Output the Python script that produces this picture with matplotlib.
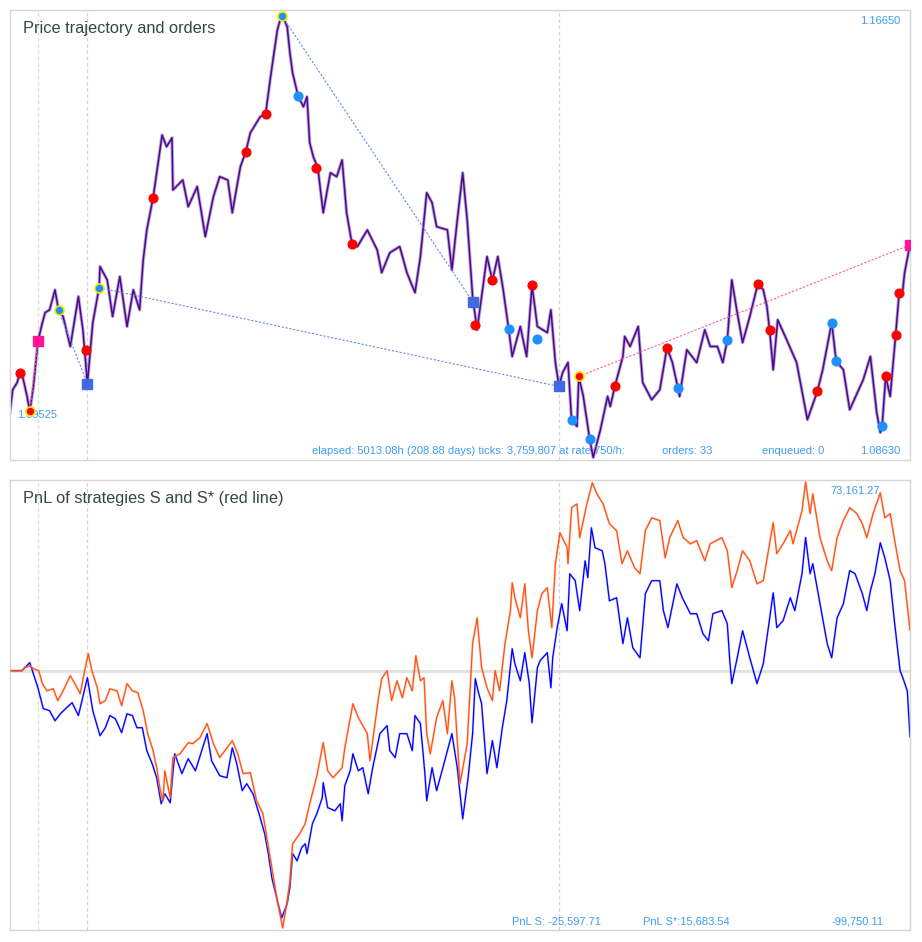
"""Price trajectory with orders, and PnL of strategies S and S*."""

import numpy as np
import matplotlib

matplotlib.use("Agg")
import matplotlib.pyplot as plt

ELAPSED_H = 5013.08

# price trajectory: elapsed time (% of run) and price
price_t = [0, 0.3, 0.8, 1.1, 1.4, 1.9, 2.2, 2.6, 3.1, 3.6, 3.9, 4.4, 5.0, 5.4, 5.9,
           6.7, 7.6, 8.1, 8.6, 9.2, 9.9, 10.0, 10.8, 11.4, 12.2, 13.0, 13.7, 14.4,
           14.8, 15.2, 15.9, 16.3, 16.9, 17.4, 18.0, 18.1, 19.2, 19.8, 20.8, 21.7,
           22.6, 23.3, 24.2, 24.7, 25.6, 26.2, 26.7, 27.8, 28.4, 28.9, 29.7, 30.2,
           30.8, 31.1, 31.4, 32.0, 32.6, 33.0, 33.3, 33.7, 34.2, 34.8, 35.6, 36.3,
           36.9, 37.4, 38.0, 38.6, 39.7, 40.8, 41.3, 42.2, 43.3, 44.1, 45.0, 45.6,
           46.3, 46.9, 47.4, 48.6, 49.1, 49.7, 50.3, 50.8, 51.4, 51.9, 52.4, 53.0,
           53.6, 54.2, 54.8, 55.4, 55.8, 56.7, 57.4, 58.0, 58.6, 59.7, 60.1, 60.6,
           61.0, 61.4, 62.0, 62.4, 63.0, 63.2, 63.7, 64.4, 64.8, 65.6, 66.4, 66.7,
           67.2, 68.1, 68.3, 68.9, 69.8, 70.3, 71.3, 72.2, 73.0, 73.6, 74.2, 74.4,
           75.2, 76.3, 77.2, 77.8, 78.6, 79.2, 79.7, 80.2, 80.8, 81.4, 82.2, 83.1,
           83.7, 84.1, 84.4, 84.8, 85.3, 86.3, 87.4, 88.6, 89.7, 90.3, 91.3, 91.8,
           92.6, 93.3, 94.8, 95.6, 96.3, 96.7, 96.9, 97.3, 97.8, 98.4, 98.8, 99.2,
           99.4, 100.0]
price = [1.0945, 1.0986, 1.0999, 1.1017, 1.1010, 1.0974, 1.0947, 1.0992, 1.1073,
         1.1107, 1.1125, 1.1130, 1.1166, 1.1129, 1.1118, 1.1064, 1.1154, 1.1094,
         1.0997, 1.1107, 1.1170, 1.1208, 1.1184, 1.1118, 1.1190, 1.1100, 1.1166,
         1.1130, 1.1220, 1.1274, 1.1332, 1.1377, 1.1445, 1.1424, 1.1440, 1.1346,
         1.1364, 1.1316, 1.1352, 1.1262, 1.1334, 1.1370, 1.1364, 1.1305, 1.1388,
         1.1415, 1.1449, 1.1478, 1.1483, 1.1544, 1.1634, 1.1663, 1.1640, 1.1593,
         1.1557, 1.1516, 1.1496, 1.1514, 1.1431, 1.1406, 1.1386, 1.1305, 1.1377,
         1.1370, 1.1400, 1.1305, 1.1249, 1.1244, 1.1274, 1.1238, 1.1197, 1.1233,
         1.1244, 1.1197, 1.1161, 1.1226, 1.1341, 1.1323, 1.1280, 1.1274, 1.1202,
         1.1292, 1.1377, 1.1292, 1.1154, 1.1094, 1.1154, 1.1226, 1.1183, 1.1226,
         1.1166, 1.1096, 1.1046, 1.1100, 1.1046, 1.1174, 1.1100, 1.1089, 1.1130,
         1.1035, 1.0992, 1.1017, 1.1035, 1.0931, 1.0920, 1.1010, 1.0974, 1.0898,
         1.0864, 1.0914, 1.0974, 1.0956, 1.0992, 1.1046, 1.1082, 1.1064, 1.1100,
         1.0999, 1.0968, 1.0986, 1.1062, 1.1035, 1.0990, 1.0974, 1.1058, 1.1035,
         1.1094, 1.1064, 1.1064, 1.1035, 1.1075, 1.1184, 1.1125, 1.1071, 1.1118,
         1.1177, 1.1166, 1.1136, 1.1094, 1.1022, 1.1112, 1.1076, 1.1035, 1.0932,
         1.0983, 1.1022, 1.1107, 1.1037, 1.1022, 1.0950, 1.1004, 1.1046, 1.0945,
         1.0909, 1.0920, 1.1010, 1.0974, 1.1084, 1.1161, 1.1166, 1.1197, 1.1247]

# single orders (red = buy, blue = sell)
red_t = [1.1, 8.4, 15.9, 26.2, 28.4, 34.0, 38.0, 51.7, 53.6, 58.0, 67.2, 73.0,
         83.1, 84.4, 89.7, 97.3, 98.4, 98.8]
red_p = [1.1017, 1.1057, 1.1332, 1.1415, 1.1483, 1.1386, 1.1249, 1.1103, 1.1183,
         1.1174, 1.0992, 1.1062, 1.1177, 1.1094, 1.0983, 1.1010, 1.1084, 1.1161]
blue_t = [32.0, 55.4, 58.6, 62.4, 64.4, 74.2, 79.7, 91.3, 91.8, 96.9]
blue_p = [1.1516, 1.1096, 1.1078, 1.0931, 1.0898, 1.0990, 1.1075, 1.1107, 1.1037,
          1.0920]

# trades that were opened and closed: entry, exit, side
trade_side = ["buy", "sell", "sell", "sell", "buy"]
entry_t = [2.2, 5.4, 9.9, 30.2, 63.2]
entry_p = [1.0947, 1.1129, 1.1170, 1.1660, 1.1010]
exit_t = [3.1, 8.6, 61.0, 51.4, 100.0]
exit_p = [1.1073, 1.0997, 1.0992, 1.1145, 1.1247]

# PnL in thousands
pnl_star_t = [0, 1.3, 1.7, 2.2, 2.6, 3.2, 3.6, 4.1, 4.8, 5.3, 5.9, 6.7, 7.2, 7.8, 8.3,
              8.7, 9.1, 9.7, 10.0, 10.6, 11.1, 11.9, 12.4, 13.0, 13.6, 14.2, 14.8,
              15.3, 15.9, 16.3, 16.7, 17.0, 17.2, 17.8, 18.1, 18.9, 19.8, 20.3, 21.1,
              21.9, 22.6, 23.3, 24.7, 25.3, 25.9, 26.7, 27.4, 28.1, 28.6, 29.1, 29.7,
              30.3, 30.8, 31.1, 31.4, 32.2, 32.8, 33.3, 34.1, 34.8, 35.3, 35.9, 36.9,
              37.2, 38.1, 38.7, 39.7, 40.0, 40.9, 41.3, 41.9, 42.4, 43.0, 43.6, 44.1,
              44.7, 45.1, 45.6, 46.0, 46.3, 46.7, 47.4, 48.1, 48.6, 49.1, 49.4, 50.0,
              50.8, 51.4, 51.9, 52.4, 53.0, 53.6, 53.9, 54.4, 55.0, 55.6, 55.8, 56.1,
              56.7, 57.2, 57.6, 58.0, 58.6, 59.1, 59.7, 60.2, 60.6, 61.1, 61.9, 62.0,
              62.4, 63.0, 63.3, 64.1, 64.7, 65.2, 65.9, 66.6, 67.4, 68.0, 68.6, 69.4,
              70.0, 70.6, 71.3, 72.2, 72.8, 73.3, 74.2, 74.8, 75.6, 76.3, 77.2, 77.8,
              79.1, 79.7, 80.2, 80.8, 81.4, 82.2, 83.0, 83.7, 84.8, 85.2, 85.9, 86.7,
              87.0, 88.0, 88.4, 88.9, 89.2, 90.0, 90.8, 91.3, 91.9, 92.6, 93.3, 94.1,
              94.7, 95.2, 95.9, 96.7, 97.2, 97.8, 98.3, 98.9, 99.4, 100.0]
pnl_star = [0, 0, 1.2, 1.9, 0.8, 0, -5.0, -7.8, -7.0, -11.6, -7.8, -1.9, -5.0, -8.9,
            0, 6.6, 0, -6.6, -12.8, -11.6, -7.0, -7.8, -13.6, -5.0, -7.8, -8.5, -15.5,
            -24.4, -31.0, -37.6, -46.5, -50.4, -38.8, -49.2, -33.7, -32.2, -27.9,
            -28.3, -26.0, -20.5, -28.3, -33.7, -27.1, -32.2, -39.9, -39.5, -50.4,
            -55.4, -65.9, -76.4, -89.2, -99.75, -89.2, -81.4, -67.1, -63.2, -59.3,
            -51.6, -40.7, -27.9, -38.8, -41.5, -37.6, -29.9, -12.8, -18.2, -24.4,
            -34.9, -11.6, -3.1, 0, -11.6, -3.9, -10.5, -2.7, -7.8, 5.8, -3.9, -2.7,
            -24.4, -32.2, -18.2, -11.6, -24.4, -3.9, -10.5, -43.8, -28.3, 10.5, 20.5,
            1.2, -6.6, -11.6, 0, -7.8, 10.5, 23.3, 34.1, 28.3, 20.5, 33.7, 15.5, 5.0,
            23.3, 29.9, 32.2, 16.7, 41.5, 53.5, 47.7, 41.5, 63.2, 64.7, 51.6, 64.7,
            72.9, 68.6, 64.7, 57.0, 54.3, 41.5, 46.5, 39.9, 37.6, 54.3, 59.3, 58.2,
            43.8, 51.6, 58.2, 51.6, 49.2, 50.4, 42.6, 49.2, 51.6, 46.5, 32.2, 38.8,
            46.5, 42.6, 33.7, 34.9, 57.4, 45.4, 49.2, 54.3, 49.2, 62.0, 73.16, 60.9,
            68.6, 51.6, 42.6, 38.8, 51.6, 58.2, 63.2, 60.9, 57.0, 51.6, 60.9, 69.0,
            59.3, 60.9, 50.4, 38.8, 34.9, 15.68]

pnl_s_t = [0, 1.3, 2.2, 2.6, 3.1, 3.7, 4.4, 5.0, 5.6, 6.3, 6.9, 7.6, 8.6, 9.2, 10.0,
           10.6, 11.1, 11.7, 12.4, 13.0, 13.6, 14.1, 14.7, 15.2, 15.8, 16.3, 16.8,
           17.2, 17.8, 18.3, 19.1, 19.8, 20.6, 21.3, 21.9, 22.4, 23.3, 24.1, 24.7,
           25.2, 25.8, 26.3, 27.0, 27.8, 28.3, 28.7, 29.1, 29.7, 30.2, 30.8, 31.1,
           31.4, 31.9, 32.4, 32.8, 33.0, 33.6, 34.1, 34.7, 34.8, 35.3, 36.1, 36.7,
           36.9, 37.2, 37.8, 38.1, 38.7, 39.2, 39.8, 40.3, 41.1, 41.9, 42.2, 42.8,
           43.3, 44.1, 44.7, 45.0, 45.6, 46.1, 46.3, 46.9, 47.4, 48.1, 49.1, 49.7,
           50.3, 50.9, 51.4, 51.7, 52.0, 52.4, 53.0, 53.6, 54.1, 54.7, 55.2, 55.8,
           56.1, 56.7, 57.2, 57.7, 58.0, 58.6, 58.9, 59.7, 60.1, 60.3, 60.8, 61.3,
           61.9, 62.2, 62.8, 63.3, 63.9, 64.2, 64.6, 65.0, 65.8, 66.1, 66.6, 67.4,
           68.1, 68.6, 69.2, 70.0, 70.6, 71.3, 72.2, 72.6, 73.1, 74.1, 74.7, 75.6,
           76.3, 77.0, 77.6, 78.1, 79.1, 79.7, 80.0, 80.2, 80.8, 81.4, 82.2, 83.0,
           83.7, 84.8, 85.2, 85.9, 86.7, 87.2, 88.0, 88.4, 88.9, 89.2, 90.0, 90.8,
           91.3, 91.9, 92.6, 93.3, 93.9, 94.7, 95.2, 95.6, 96.1, 96.7, 97.2, 97.8,
           98.3, 98.9, 99.2, 99.7, 100.0]
pnl_s = [0, 0, 3.1, -1.2, -6.6, -14.7, -15.5, -19.4, -16.7, -14.3, -12.4, -17.4, -2.7,
         -15.5, -25.2, -22.1, -17.4, -18.6, -24.0, -16.7, -17.4, -22.1, -22.1, -31.0,
         -36.1, -41.5, -51.6, -47.7, -51.2, -32.2, -39.9, -34.1, -38.8, -31.0, -24.4,
         -34.9, -40.7, -41.5, -29.9, -36.1, -46.5, -43.8, -47.7, -57.0, -63.2, -70.9,
         -80.3, -89.2, -95.8, -90.3, -84.1, -70.9, -73.7, -68.6, -67.1, -70.9, -59.3,
         -55.4, -49.2, -43.4, -53.1, -54.3, -51.6, -58.2, -44.6, -38.8, -32.2, -38.8,
         -37.6, -47.7, -37.6, -24.4, -21.3, -31.0, -33.7, -24.4, -24.4, -31.0, -17.4,
         -20.5, -39.9, -50.4, -37.6, -46.5, -37.6, -24.4, -37.6, -57.4, -41.5, -24.4,
         -3.1, -7.8, -12.8, -39.9, -27.1, -37.6, -22.1, -11.6, 8.5, 2.7, -3.9, 7.0,
         -5.0, -20.2, 1.2, 3.9, 7.0, -6.6, 5.0, 16.7, 26.0, 15.5, 37.6, 34.9, 23.3,
         42.6, 36.1, 55.4, 47.7, 46.5, 41.5, 27.1, 28.3, 10.5, 20.5, 8.9, 5.0, 29.9,
         34.9, 34.9, 23.3, 16.7, 33.7, 28.3, 22.1, 22.1, 14.3, 11.6, 22.1, 23.3, 18.2,
         2.7, -5.0, 5.0, 15.5, 5.0, -5.0, 2.7, 30.2, 16.7, 19.4, 28.3, 23.3, 37.6,
         51.6, 37.6, 41.5, 26.0, 10.5, 5.0, 20.5, 26.0, 38.8, 37.6, 29.9, 23.3, 31.0,
         37.6, 49.6, 43.8, 34.9, 18.2, 0, -2.7, -7.8, -25.60]

TITLE_INK = "#33474a"
LABEL_BLUE = "#3d9cf5"
FRAME = "#d6d6d6"
SMALL = 8

plt.rcParams["font.family"] = ["Liberation Sans", "DejaVu Sans"]


def hours(pct):
    return np.asarray(pct) / 100.0 * ELAPSED_H


def frame(ax):
    ax.set_xticks([])
    ax.set_yticks([])
    for s in ax.spines.values():
        s.set_color(FRAME)
        s.set_linewidth(1.0)
    ax.set_xlim(0, ELAPSED_H)


def exit_markers(ax):
    for i in range(3):
        c = "#cfe6cf" if i == 0 else "#d4d4d4"
        ax.axvline(hours(exit_t[i]), color=c, lw=0.9, ls=(0, (3, 2)), zorder=0)


def note(ax, x, y, s, ha="left"):
    ax.text(x, y, s, transform=ax.transAxes, fontsize=SMALL, color=LABEL_BLUE,
            ha=ha, va="center")


fig = plt.figure(figsize=(9.22, 9.42), dpi=100)
ax1 = fig.add_axes([10 / 922, 482 / 942, 900 / 922, 450 / 942])
ax2 = fig.add_axes([10 / 922, 12 / 942, 900 / 922, 450 / 942])

# --- price panel ---
frame(ax1)
ax1.set_ylim(1.08594, 1.16704)
exit_markers(ax1)
ax1.plot(hours(price_t), price, color="#a07cc4", lw=2.4, alpha=0.7, zorder=2)
ax1.plot(hours(price_t), price, color="#4b0a8c", lw=1.1, zorder=2)
for side, et, ep, xt, xp in zip(trade_side, entry_t, entry_p, exit_t, exit_p):
    lc = "#ff5c9a" if side == "buy" else "#6a8ce6"
    ax1.plot(hours([et, xt]), [ep, xp], color=lc, lw=0.8, ls=(0, (2, 1.5)), zorder=3)
    ax1.plot(hours([xt]), [xp], ls="none", marker="s", ms=6.5,
             color="#ff1493" if side == "buy" else "#4169e1", zorder=5)
    ax1.plot(hours([et]), [ep], ls="none", marker="o", ms=6.5,
             mfc="#ff0000" if side == "buy" else "#1e90ff", mec="#f2e600", mew=1.2,
             zorder=6)
ax1.plot(hours(red_t), red_p, ls="none", marker="o", ms=6.3, color="#ff0000", zorder=4)
ax1.plot(hours(blue_t), blue_p, ls="none", marker="o", ms=6.3, color="#1e90ff", zorder=4)

ax1.text(0.0144, 0.96, "Price trajectory and orders", transform=ax1.transAxes,
         fontsize=11.8, color=TITLE_INK, va="center", ha="left")
note(ax1, 0.989, 0.976, "1.16650", ha="right")
note(ax1, 0.0078, 0.1, "1.09525")
note(ax1, 0.3356, 0.02, "elapsed: 5013.08h (208.88 days) ticks: 3,759,807 at rate 750/h:")
note(ax1, 0.7244, 0.02, "orders: 33")
note(ax1, 0.8356, 0.02, "enqueued: 0")
note(ax1, 0.989, 0.02, "1.08630", ha="right")

# --- PnL panel ---
frame(ax2)
ax2.set_ylim(-100.53, 73.94)
exit_markers(ax2)
ax2.axhline(0, color="#dde2dd", lw=2, zorder=1)
ax2.plot(hours(pnl_s_t), pnl_s, color="#8c8cff", lw=1.6, alpha=0.5, zorder=2)
ax2.plot(hours(pnl_s_t), pnl_s, color="#0000ff", lw=0.9, zorder=2)
ax2.plot(hours(pnl_star_t), pnl_star, color="#ffa080", lw=1.6, alpha=0.5, zorder=3)
ax2.plot(hours(pnl_star_t), pnl_star, color="#ff4500", lw=0.9, alpha=0.9, zorder=3)

ax2.text(0.0144, 0.96, "PnL of strategies S and S* (red line)", transform=ax2.transAxes,
         fontsize=11.8, color=TITLE_INK, va="center", ha="left")
note(ax2, 0.9667, 0.976, "73,161.27", ha="right")
note(ax2, 0.5578, 0.02, "PnL S: -25,597.71")
note(ax2, 0.7033, 0.02, "PnL S*:15,683.54")
note(ax2, 0.9133, 0.02, "-99,750.11")

fig.savefig("out.png", dpi=100, facecolor="white")
